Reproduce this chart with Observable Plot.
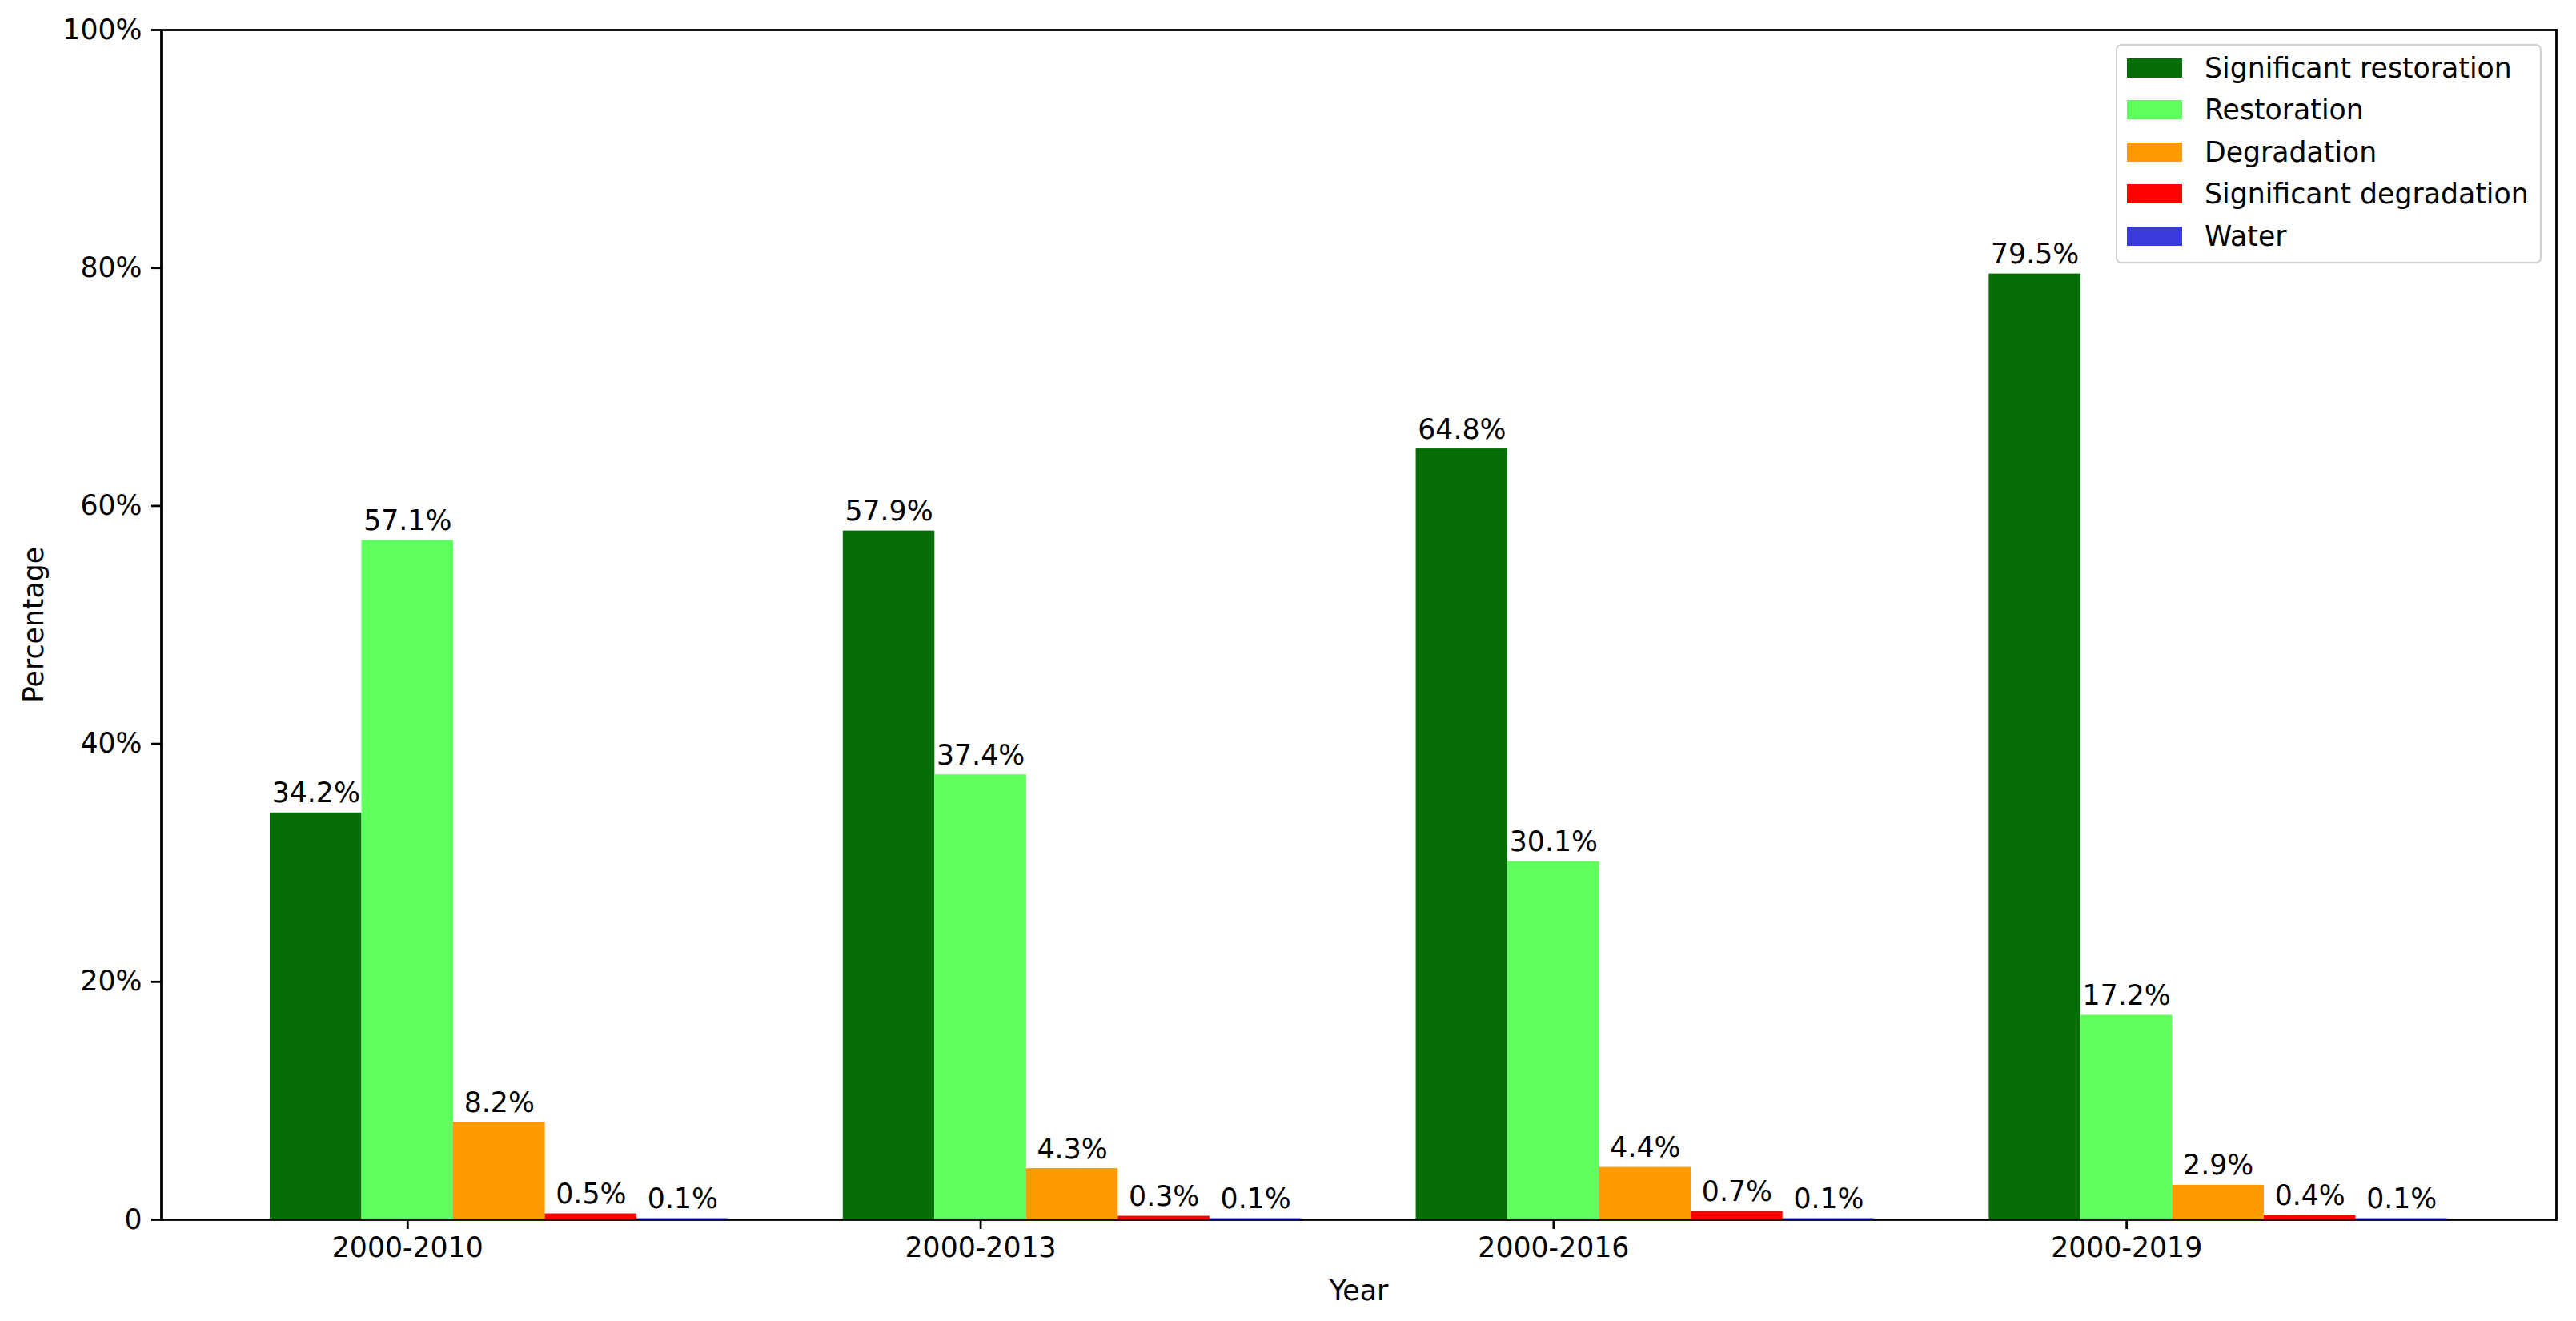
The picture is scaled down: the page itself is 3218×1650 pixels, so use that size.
<!DOCTYPE html>
<html>
<head>
<meta charset="utf-8">
<script src="https://cdn.jsdelivr.net/npm/d3@7"></script>
<script src="https://cdn.jsdelivr.net/npm/@observablehq/plot@0.6"></script>
<style>
  html, body { margin: 0; padding: 0; background: #fff; }
  #wrap { position: relative; width: 3218px; height: 1650px; font-family: "DejaVu Sans", sans-serif; }
  #legend { position: absolute; left: 2643px; top: 55px; width: 532px; height: 274px;
            border: 2.8px solid #d0d0d0; border-radius: 7px; background: rgba(255,255,255,0.8); box-sizing: border-box; }
  .row { position: absolute; left: 12px; height: 35px; display: flex; align-items: center; font-size: 34.7px; color: #000; white-space: nowrap; }
  .sw { width: 69px; height: 24px; margin-right: 28px; }
</style>
</head>
<body>
<div id="wrap"></div>
<script>
const periods = ["2000-2010", "2000-2013", "2000-2016", "2000-2019"];
const categories = ["Significant restoration", "Restoration", "Degradation", "Significant degradation", "Water"];
const colors = ["#076e07", "#5fff5f", "#ff9a00", "#ff0000", "#3a3adc"];
const sigRestoration = [34.2, 57.9, 64.8, 79.5];
const restoration = [57.1, 37.4, 30.1, 17.2];
const degradation = [8.2, 4.3, 4.4, 2.9];
const sigDegradation = [0.5, 0.3, 0.7, 0.4];
const water = [0.1, 0.1, 0.1, 0.1];
const yTicks = [0, 20, 40, 60, 80, 100];

const series = [sigRestoration, restoration, degradation, sigDegradation, water];
const barWidth = 0.16;
const data = [];
series.forEach((vals, s) => {
  vals.forEach((v, g) => {
    const c = g + (s - 1) * barWidth;
    data.push({period: periods[g], category: categories[s], value: v, x1: c - barWidth / 2, x2: c + barWidth / 2, xc: c});
  });
});

const chart = Plot.plot({
  width: 3218,
  height: 1650,
  marginLeft: 201,
  marginRight: 25,
  marginTop: 37,
  marginBottom: 127,
  style: {fontFamily: "DejaVu Sans", fontSize: "34.7px", color: "#000", background: "#fff"},
  x: {domain: [-0.43, 3.75]},
  y: {domain: [0, 100]},
  color: {domain: categories, range: colors},
  marks: [
    Plot.frame({stroke: "#000", strokeWidth: 2.8}),
    Plot.rectY(data, {x1: "x1", x2: "x2", y1: 0, y2: "value", fill: "category"}),
    Plot.text(data, {x: "xc", y: "value", text: d => d.value.toFixed(1) + "%", lineAnchor: "bottom", dy: -13, fill: "#000", fontSize: 34.7}),
    Plot.axisX({ticks: [0, 1, 2, 3], tickFormat: i => periods[i], tickSize: 12, tickPadding: 10, strokeWidth: 2.8, label: "Year", labelAnchor: "center", labelOffset: 100, labelArrow: "none", fontSize: 34.7}),
    Plot.axisY({ticks: yTicks, tickFormat: d => d === 0 ? "0" : d + "%", tickSize: 12, tickPadding: 12, strokeWidth: 2.8, label: "Percentage", labelAnchor: "center", labelOffset: 172, labelArrow: "none", fontSize: 34.7})
  ]
});
document.getElementById("wrap").appendChild(chart);

const legend = document.createElement("div");
legend.id = "legend";
categories.forEach((c, i) => {
  const row = document.createElement("div");
  row.className = "row";
  row.style.top = (10 + i * 52.5) + "px";
  const sw = document.createElement("div");
  sw.className = "sw";
  sw.style.background = colors[i];
  row.appendChild(sw);
  const t = document.createElement("span");
  t.textContent = c;
  row.appendChild(t);
  legend.appendChild(row);
});
document.getElementById("wrap").appendChild(legend);
</script>
</body>
</html>
